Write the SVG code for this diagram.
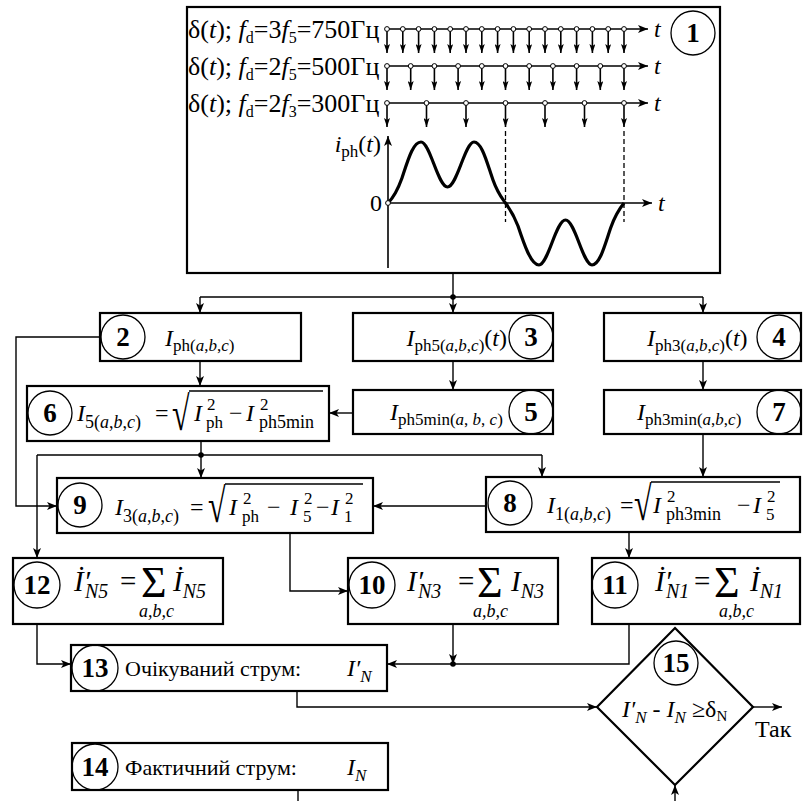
<svg xmlns="http://www.w3.org/2000/svg" width="804" height="801" viewBox="0 0 804 801">
<defs>
<style>
text{font-family:"Liberation Serif","Times New Roman",serif;fill:#000}
.bx{fill:#fff;stroke:#000;stroke-width:2.2}
.cr{fill:none;stroke:#000;stroke-width:1.3}
.nm{font-weight:bold;font-size:27px;text-anchor:middle}
.ln{fill:none;stroke:#000;stroke-width:1.4}
.th{fill:none;stroke:#000;stroke-width:1.6}
.ar{marker-end:url(#ah)}
.tx{font-size:22px}
.mi{font-size:24px;font-style:italic}
.up{font-size:24px}
.s{font-size:17px;font-style:normal}
.i{font-style:italic}
.u{font-style:normal}
.big{font-size:29px;font-style:italic}
.bu{font-size:29px;font-style:normal}
.sg{font-size:44px;font-style:normal}
.sb{font-size:20px;font-style:italic}
.ab{font-size:18px;font-style:italic}
.rt{font-size:32px}
.rw{font-size:26px}
.dot{fill:#fff;stroke:#000;stroke-width:1}
.dash{fill:none;stroke:#000;stroke-width:1.3;stroke-dasharray:5 3}
</style>
<marker id="ah" viewBox="0 0 10 8" refX="10" refY="4" markerWidth="10" markerHeight="8" markerUnits="userSpaceOnUse" orient="auto"><path d="M0,0 L10,4 L0,8 L2.5,4z"/></marker>
<marker id="as" viewBox="0 0 9 6" refX="9" refY="3" markerWidth="9" markerHeight="6" markerUnits="userSpaceOnUse" orient="auto"><path d="M0,0 L9,3 L0,6 L2,3z"/></marker>
<g id="sp"><line x1="0" y1="0" x2="0" y2="24" class="th" marker-end="url(#as)"/><circle r="2.4" class="dot"/></g>
</defs>
<rect width="804" height="801" fill="#fff"/>

<g id="n1">
<rect class="bx" x="187" y="7" width="533" height="266"/>
<text class="rw" x="188" y="38">δ(<tspan class="i">t</tspan>); <tspan class="i">f</tspan><tspan dy="5" style="font-size:16px">d</tspan><tspan dy="-5">=3</tspan><tspan class="i">f</tspan><tspan dy="5" style="font-size:16px">5</tspan><tspan dy="-5">=750Гц</tspan></text>
<text class="rw" x="188" y="75">δ(<tspan class="i">t</tspan>); <tspan class="i">f</tspan><tspan dy="5" style="font-size:16px">d</tspan><tspan dy="-5">=2</tspan><tspan class="i">f</tspan><tspan dy="5" style="font-size:16px">5</tspan><tspan dy="-5">=500Гц</tspan></text>
<text class="rw" x="188" y="112">δ(<tspan class="i">t</tspan>); <tspan class="i">f</tspan><tspan dy="5" style="font-size:16px">d</tspan><tspan dy="-5">=2</tspan><tspan class="i">f</tspan><tspan dy="5" style="font-size:16px">3</tspan><tspan dy="-5">=300Гц</tspan></text>
<line class="th" x1="385" y1="29" x2="648" y2="29" marker-end="url(#ah)"/>
<line class="th" x1="385" y1="66" x2="648" y2="66" marker-end="url(#ah)"/>
<line class="th" x1="385" y1="103" x2="648" y2="103" marker-end="url(#ah)"/>
<text class="mi" x="654" y="37">t</text>
<text class="mi" x="654" y="74">t</text>
<text class="mi" x="654" y="111">t</text>
<use href="#sp" x="387" y="29"/><use href="#sp" x="402.8" y="29"/><use href="#sp" x="418.6" y="29"/><use href="#sp" x="434.4" y="29"/><use href="#sp" x="450.2" y="29"/><use href="#sp" x="466" y="29"/><use href="#sp" x="481.8" y="29"/><use href="#sp" x="497.6" y="29"/><use href="#sp" x="513.4" y="29"/><use href="#sp" x="529.2" y="29"/><use href="#sp" x="545" y="29"/><use href="#sp" x="560.8" y="29"/><use href="#sp" x="576.6" y="29"/><use href="#sp" x="592.4" y="29"/><use href="#sp" x="608.2" y="29"/><use href="#sp" x="624" y="29"/>
<use href="#sp" x="387" y="66"/><use href="#sp" x="410.7" y="66"/><use href="#sp" x="434.4" y="66"/><use href="#sp" x="458.1" y="66"/><use href="#sp" x="481.8" y="66"/><use href="#sp" x="505.5" y="66"/><use href="#sp" x="529.2" y="66"/><use href="#sp" x="552.9" y="66"/><use href="#sp" x="576.6" y="66"/><use href="#sp" x="600.3" y="66"/><use href="#sp" x="624" y="66"/>
<use href="#sp" x="387" y="103"/><use href="#sp" x="426.5" y="103"/><use href="#sp" x="466" y="103"/><use href="#sp" x="505.5" y="103"/><use href="#sp" x="545" y="103"/><use href="#sp" x="584.5" y="103"/><use href="#sp" x="624" y="103"/>
<line class="dash" x1="505.5" y1="131" x2="505.5" y2="222"/>
<line class="dash" x1="624" y1="131" x2="624" y2="222"/>
<line class="th" x1="388" y1="268" x2="388" y2="136" marker-end="url(#ah)"/>
<line class="th" x1="388" y1="203" x2="652" y2="203" marker-end="url(#ah)"/>
<text class="mi" x="658" y="211">t</text>
<text class="up" x="382" y="211" text-anchor="end">0</text>
<text class="up" x="381" y="152" text-anchor="end"><tspan class="i">i</tspan><tspan class="s" dy="5">ph</tspan><tspan dy="-5">(</tspan><tspan class="i">t</tspan>)</text>
<path d="M388,203 C393,198 397,192 402,178 C408,160 413,142 421,142 C430,142 438,187 447.5,187 C457,187 465,142 474,142 C482,142 487,163 493,180 C498,194 502,198 505.5,203 C509,208 513,213 518,226 C524,244 531,265 539,265 C548,265 556,220 565.5,220 C575,220 583,265 592,265 C600,265 605,244 611,227 C616,213 620,208 624,203" fill="none" stroke="#000" stroke-width="3.2"/>
<circle cx="388" cy="203" r="2.4" class="dot"/>
<circle class="cr" cx="693" cy="33" r="22"/><text class="nm" x="693" y="42">1</text>
</g>

<g id="n2">
<rect class="bx" x="100" y="313" width="201" height="48"/>
<circle class="cr" cx="123" cy="337" r="22"/><text class="nm" x="123" y="346">2</text>
<text class="mi" x="165" y="346">I<tspan class="s" dy="5">ph(<tspan class="i">a</tspan>,<tspan class="i">b</tspan>,<tspan class="i">c</tspan>)</tspan></text>
</g>

<g id="n3">
<rect class="bx" x="353" y="313" width="200" height="48"/>
<circle class="cr" cx="531" cy="337" r="22"/><text class="nm" x="531" y="346">3</text>
<text class="mi" x="507" y="346" text-anchor="end">I<tspan class="s" dy="5">ph5(<tspan class="i">a</tspan>,<tspan class="i">b</tspan>,<tspan class="i">c</tspan>)</tspan><tspan class="u" dy="-5">(</tspan>t<tspan class="u">)</tspan></text>
</g>

<g id="n4">
<rect class="bx" x="604" y="313" width="197" height="48"/>
<circle class="cr" cx="779" cy="337" r="22"/><text class="nm" x="779" y="346">4</text>
<text class="mi" x="647" y="346">I<tspan class="s" dy="5">ph3(<tspan class="i">a</tspan>,<tspan class="i">b</tspan>,<tspan class="i">c</tspan>)</tspan><tspan class="u" dy="-5">(</tspan>t<tspan class="u">)</tspan></text>
</g>

<g id="n5">
<rect class="bx" x="353" y="390" width="200" height="44"/>
<circle class="cr" cx="531" cy="412" r="22"/><text class="nm" x="531" y="421">5</text>
<text class="mi" x="390" y="420">I<tspan class="s" dy="5">ph5min(<tspan class="i">a</tspan>, <tspan class="i">b</tspan>, <tspan class="i">c</tspan>)</tspan></text>
</g>

<g id="n6">
<rect class="bx" x="27" y="386" width="302" height="55"/>
<circle class="cr" cx="50" cy="413" r="22"/><text class="nm" x="50" y="422">6</text>
<text class="mi" x="77" y="421">I<tspan class="s" y="428" style="font-size:18px">5(<tspan class="i">a</tspan>,<tspan class="i">b</tspan>,<tspan class="i">c</tspan>)</tspan><tspan class="up u" x="155" y="421">=</tspan><tspan x="194" y="421">I</tspan><tspan class="s" x="207" y="410">2</tspan><tspan class="s" x="206" y="428">ph</tspan><tspan class="up u" x="229" y="421">−</tspan><tspan x="246" y="421">I</tspan><tspan class="s" x="260" y="410">2</tspan><tspan class="s" x="259" y="428" style="font-size:18px">ph5min</tspan></text>
<text class="rt" transform="translate(172,430) scale(1,1.5)">√</text>
<line x1="189" y1="391" x2="323" y2="391" stroke="#000" stroke-width="1.3"/>
</g>

<g id="n7">
<rect class="bx" x="604" y="390" width="197" height="44"/>
<circle class="cr" cx="779" cy="412" r="22"/><text class="nm" x="779" y="421">7</text>
<text class="mi" x="637" y="420">I<tspan class="s" dy="5">ph3min(<tspan class="i">a</tspan>,<tspan class="i">b</tspan>,<tspan class="i">c</tspan>)</tspan></text>
</g>

<g id="n8">
<rect class="bx" x="486" y="477" width="314" height="55"/>
<circle class="cr" cx="510" cy="503" r="22"/><text class="nm" x="510" y="512">8</text>
<text class="mi" x="547" y="513">I<tspan class="s" y="520" style="font-size:18px">1(<tspan class="i">a</tspan>,<tspan class="i">b</tspan>,<tspan class="i">c</tspan>)</tspan><tspan class="up u" x="620" y="513">=</tspan><tspan x="653" y="513">I</tspan><tspan class="s" x="667" y="502">2</tspan><tspan class="s" x="666" y="520" style="font-size:18px">ph3min</tspan><tspan class="up u" x="737" y="513">−</tspan><tspan x="753" y="513">I</tspan><tspan class="s" x="767" y="502">2</tspan><tspan class="s" x="766" y="520">5</tspan></text>
<text class="rt" transform="translate(634,520) scale(1,1.5)">√</text>
<line x1="651" y1="482" x2="780" y2="482" stroke="#000" stroke-width="1.3"/>
</g>

<g id="n9">
<rect class="bx" x="57" y="478" width="316" height="55"/>
<circle class="cr" cx="80" cy="505" r="22"/><text class="nm" x="80" y="514">9</text>
<text class="mi" x="115" y="515">I<tspan class="s" y="522" style="font-size:18px">3(<tspan class="i">a</tspan>,<tspan class="i">b</tspan>,<tspan class="i">c</tspan>)</tspan><tspan class="up u" x="190" y="515">=</tspan><tspan x="229" y="515">I</tspan><tspan class="s" x="243" y="504">2</tspan><tspan class="s" x="242" y="522">ph</tspan><tspan class="up u" x="267" y="515">−</tspan><tspan x="290" y="515">I</tspan><tspan class="s" x="304" y="504">2</tspan><tspan class="s" x="303" y="522">5</tspan><tspan class="up u" x="316" y="515">−</tspan><tspan x="331" y="515">I</tspan><tspan class="s" x="345" y="504">2</tspan><tspan class="s" x="344" y="522">1</tspan></text>
<text class="rt" transform="translate(208,522) scale(1,1.5)">√</text>
<line x1="225" y1="484" x2="363" y2="484" stroke="#000" stroke-width="1.3"/>
</g>

<g id="n10">
<rect class="bx" x="348" y="558" width="210" height="66"/>
<circle class="cr" cx="372" cy="585" r="23"/><text class="nm" x="372" y="594">10</text>
<text class="big" x="407" y="591">I′<tspan class="sb" dx="-5" dy="7">N3</tspan><tspan class="bu" x="458" y="591">=</tspan><tspan class="sg" x="477" y="597">Σ</tspan><tspan x="511" y="591">I</tspan><tspan class="sb" dy="7">N3</tspan><tspan class="ab" x="473" y="617">a,b,c</tspan></text>
</g>

<g id="n11">
<rect class="bx" x="592" y="558" width="208" height="66"/>
<circle class="cr" cx="615" cy="585" r="23"/><text class="nm" x="615" y="594">11</text>
<text class="big" x="655" y="591">İ′<tspan class="sb" dx="-5" dy="7">N1</tspan><tspan class="bu" x="694" y="591">=</tspan><tspan class="sg" x="714" y="597">Σ</tspan><tspan x="750" y="591">İ</tspan><tspan class="sb" dy="7">N1</tspan><tspan class="ab" x="719" y="617">a,b,c</tspan></text>
</g>

<g id="n12">
<rect class="bx" x="13" y="558" width="210" height="66"/>
<circle class="cr" cx="37" cy="585" r="23"/><text class="nm" x="37" y="594">12</text>
<text class="big" x="74" y="591">İ′<tspan class="sb" dx="-5" dy="7">N5</tspan><tspan class="bu" x="120" y="591">=</tspan><tspan class="sg" x="141" y="597">Σ</tspan><tspan x="173" y="591">İ</tspan><tspan class="sb" dy="7">N5</tspan><tspan class="ab" x="139" y="617">a,b,c</tspan></text>
</g>

<g id="n13">
<rect class="bx" x="71" y="645" width="316" height="46"/>
<circle class="cr" cx="95" cy="668" r="23"/><text class="nm" x="95" y="677">13</text>
<text class="tx" x="125" y="676">Очікуваний струм:</text>
<text class="mi" x="347" y="676">I′<tspan class="s i" dy="6">N</tspan></text>
</g>

<g id="n14">
<rect class="bx" x="72" y="743" width="316" height="47"/>
<circle class="cr" cx="95" cy="767" r="23"/><text class="nm" x="95" y="776">14</text>
<text class="tx" x="125" y="775">Фактичний струм:</text>
<text class="mi" x="347" y="775">I<tspan class="s i" dy="6">N</tspan></text>
</g>

<g id="n15">
<path d="M675,628 L753,707 L675,785 L597,707 Z" fill="#fff" stroke="#000" stroke-width="2.2"/>
<circle class="cr" cx="676" cy="663" r="22"/><text class="nm" x="676" y="672">15</text>
<text class="mi" x="622" y="717">I′<tspan class="s i" dy="6">N</tspan><tspan class="u" dy="-6"> - </tspan>I<tspan class="s i" dy="6">N</tspan><tspan class="u" dy="-6"> ≥δ</tspan><tspan class="s" dy="4" style="font-size:15px">N</tspan></text>
<text x="755" y="737" style="font-size:24px">Так</text>
</g>

<g id="connectors" class="ln">
<path d="M453,273 V297"/>
<path d="M200,297 H703"/>
<path class="ar" d="M200,297 V313"/>
<path class="ar" d="M453,297 V313"/>
<path class="ar" d="M703,297 V313"/>
<path class="ar" d="M200,361 V386"/>
<path class="ar" d="M453,361 V390"/>
<path class="ar" d="M703,361 V390"/>
<path class="ar" d="M353,413 H329"/>
<path class="ar" d="M100,337 H16 V506 H57"/>
<path class="ar" d="M201,441 V478"/>
<path d="M37,455 H542"/>
<path class="ar" d="M37,455 V558"/>
<path class="ar" d="M542,455 V477"/>
<path class="ar" d="M703,434 V477"/>
<path class="ar" d="M486,506 H373"/>
<path class="ar" d="M290,533 V591 H348"/>
<path class="ar" d="M629,532 V558"/>
<path class="ar" d="M37,624 V664 H71"/>
<path class="ar" d="M453,624 V664"/>
<path class="ar" d="M629,624 V664 H387"/>
<path class="ar" d="M297,691 V707 H597"/>
<path d="M298,790 V801"/>
<path class="ar" d="M675,801 V785"/>
<path class="ar" d="M753,707 H782"/>
<circle cx="453" cy="297" r="2.8" fill="#000" stroke="none"/>
<circle cx="201" cy="455" r="2.8" fill="#000" stroke="none"/>
<circle cx="453" cy="664" r="2.8" fill="#000" stroke="none"/>
</g>
</svg>
